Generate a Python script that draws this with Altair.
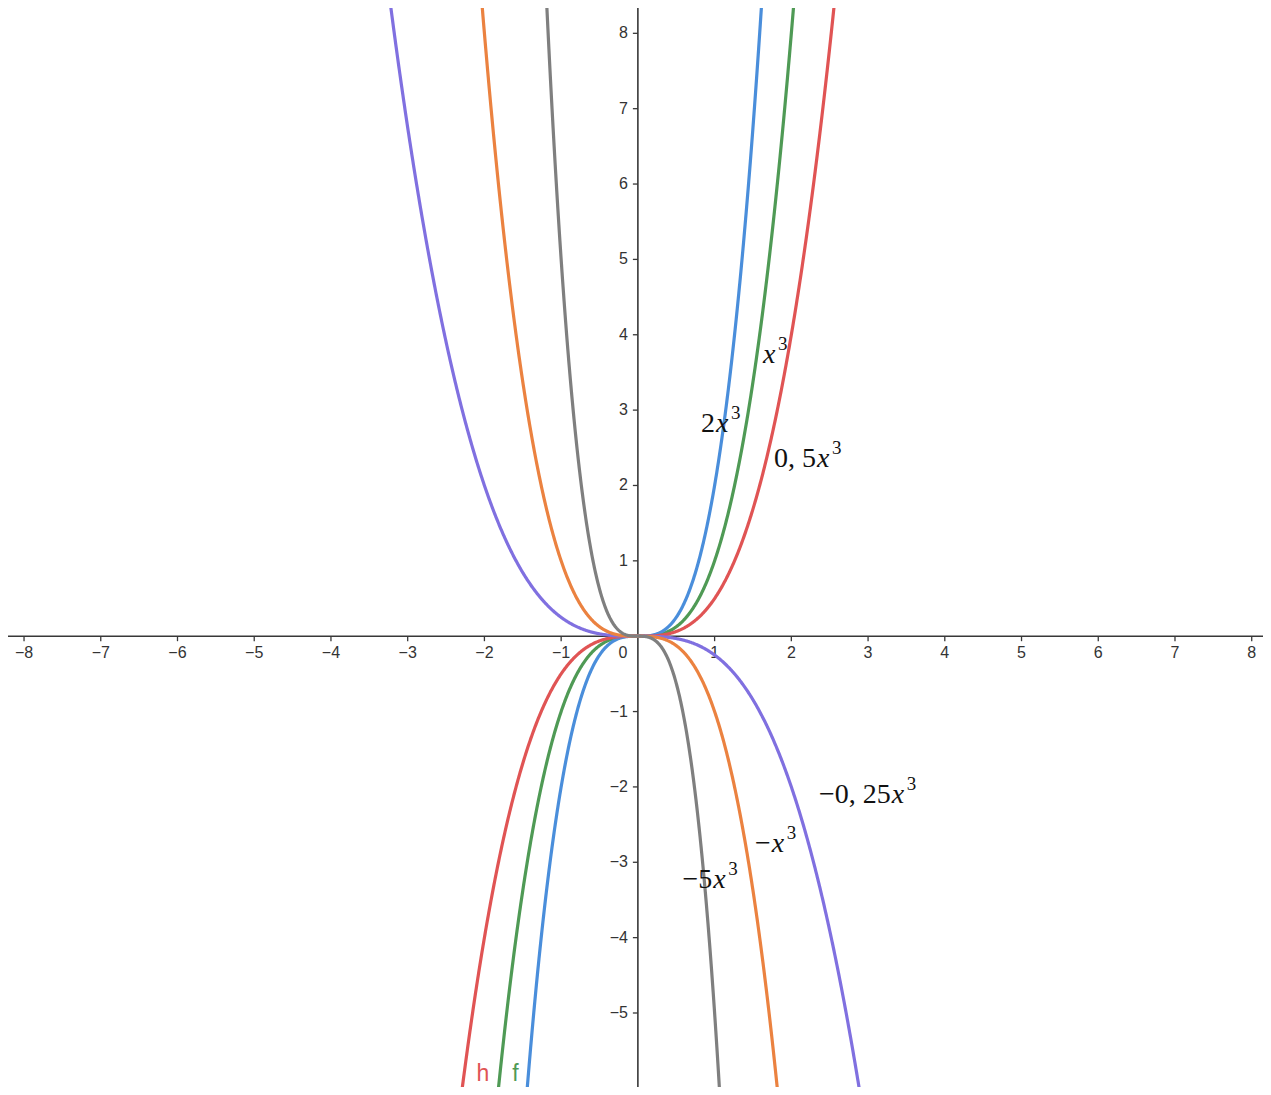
import numpy as np
import pandas as pd
import altair as alt

# ---- view (data coordinates) ----
XMIN, XMAX = -8.209, 8.147
YMIN, YMAX = -5.982, 8.336

# ---- functions ----
names = ["x³", "2x³", "0,5x³", "-0,25x³", "-x³", "-5x³"]
coefs = [1, 2, 0.5, -0.25, -1, -5]
colors = ["#4F9A55", "#4A8EDB", "#E05454", "#8070E0", "#EB8240", "#7F7F7F"]

# ---- curve labels (LaTeX-like) ----
lab_prefix = ["", "2", "0, 5", "−0, 25", "−", "−5"]
lab_x = [1.630, 1.018, 2.334, 3.308, 1.744, 0.983]
lab_y = [3.621, 2.714, 2.249, -2.217, -2.860, -3.337]

# ---- object names ----
obj_names = ["h", "f"]
obj_x = [-2.019, -1.595]
obj_y = [-5.905, -5.905]
obj_colors = ["#E05454", "#4F9A55"]

# ---- ticks ----
x_ticks = [-8, -7, -6, -5, -4, -3, -2, -1, 1, 2, 3, 4, 5, 6, 7, 8]
y_ticks = [-5, -4, -3, -2, -1, 1, 2, 3, 4, 5, 6, 7, 8]
y_labels = [-5, -4, -3, -2, -1, 1, 2, 3, 4, 5, 6, 7, 8]


def fmt(v):
    return ("−" + str(-v)) if v < 0 else str(v)


xsamp = np.linspace(XMIN, XMAX, 2400)
rows = []
for n, a in zip(names, coefs):
    for i, x in enumerate(xsamp):
        y = a * x ** 3
        if YMIN - 1.5 <= y <= YMAX + 1.5:
            rows.append({"name": n, "x": float(x), "y": float(y), "i": i})
curves = pd.DataFrame(rows)

xs = alt.Scale(domain=[XMIN, XMAX], nice=False, zero=False)
ys = alt.Scale(domain=[YMIN, YMAX], nice=False, zero=False)

AX = "#383838"

axis_x = alt.Chart(pd.DataFrame({"x": [XMIN], "x2": [XMAX], "y": [0]})).mark_rule(
    color=AX, strokeWidth=1.6
).encode(
    x=alt.X("x:Q", scale=xs, axis=None), x2="x2:Q", y=alt.Y("y:Q", scale=ys, axis=None)
)
axis_y = alt.Chart(pd.DataFrame({"x": [0], "y": [YMIN], "y2": [YMAX]})).mark_rule(
    color=AX, strokeWidth=1.6
).encode(
    x=alt.X("x:Q", scale=xs, axis=None), y=alt.Y("y:Q", scale=ys, axis=None), y2="y2:Q"
)

xt = pd.DataFrame({"x": x_ticks, "y": [0] * len(x_ticks), "t": [fmt(v) for v in x_ticks]})
yt = pd.DataFrame({"x": [0] * len(y_ticks), "y": y_ticks})
yl = pd.DataFrame({"x": [0] * len(y_labels), "y": y_labels, "t": [fmt(v) for v in y_labels]})

xtick_marks = alt.Chart(xt).mark_rule(color=AX, strokeWidth=1.3, y2Offset=5).encode(
    x=alt.X("x:Q", scale=xs, axis=None), y=alt.Y("y:Q", scale=ys, axis=None), y2="y:Q"
)
ytick_marks = alt.Chart(yt).mark_rule(color=AX, strokeWidth=1.3, x2Offset=-5).encode(
    x=alt.X("x:Q", scale=xs, axis=None), x2="x:Q", y=alt.Y("y:Q", scale=ys, axis=None)
)

TICKFONT = "Liberation Sans"
xtick_text = alt.Chart(xt).mark_text(
    font=TICKFONT, fontSize=16, color="#333333", align="center", baseline="middle", dy=17
).encode(x=alt.X("x:Q", scale=xs, axis=None), y=alt.Y("y:Q", scale=ys, axis=None), text="t:N")
ytick_text = alt.Chart(yl).mark_text(
    font=TICKFONT, fontSize=16, color="#333333", align="right", baseline="middle", dx=-10
).encode(x=alt.X("x:Q", scale=xs, axis=None), y=alt.Y("y:Q", scale=ys, axis=None), text="t:N")
zero_text = alt.Chart(pd.DataFrame({"x": [0], "y": [0], "t": ["0"]})).mark_text(
    font=TICKFONT, fontSize=16, color="#333333", align="center", baseline="middle", dx=-15, dy=17
).encode(x=alt.X("x:Q", scale=xs, axis=None), y=alt.Y("y:Q", scale=ys, axis=None), text="t:N")

lines = alt.Chart(curves).mark_line(strokeWidth=3.2, clip=True).encode(
    x=alt.X("x:Q", scale=xs, axis=None),
    y=alt.Y("y:Q", scale=ys, axis=None),
    color=alt.Color("name:N", scale=alt.Scale(domain=names, range=colors), legend=None),
    detail="name:N",
    order="i:Q",
)

labs = pd.DataFrame({"x": lab_x, "y": lab_y, "p": lab_prefix,
                     "v": ["x"] * len(lab_x), "s": ["3"] * len(lab_x)})
MATHFONT = "Liberation Serif"
lab_pre = alt.Chart(labs).mark_text(
    font=MATHFONT, fontSize=28, color="#111111", align="right", baseline="alphabetic", dx=-1
).encode(x=alt.X("x:Q", scale=xs, axis=None), y=alt.Y("y:Q", scale=ys, axis=None), text="p:N")
lab_var = alt.Chart(labs).mark_text(
    font=MATHFONT, fontSize=28, fontStyle="italic", color="#111111", align="left", baseline="alphabetic"
).encode(x=alt.X("x:Q", scale=xs, axis=None), y=alt.Y("y:Q", scale=ys, axis=None), text="v:N")
lab_sup = alt.Chart(labs).mark_text(
    font=MATHFONT, fontSize=19, color="#111111", align="left", baseline="alphabetic", dx=15, dy=-13
).encode(x=alt.X("x:Q", scale=xs, axis=None), y=alt.Y("y:Q", scale=ys, axis=None), text="s:N")

objs = pd.DataFrame({"x": obj_x, "y": obj_y, "t": obj_names, "c": obj_colors})
obj_text = alt.Chart(objs).mark_text(
    font=TICKFONT, fontSize=23, align="center", baseline="alphabetic"
).encode(
    x=alt.X("x:Q", scale=xs, axis=None),
    y=alt.Y("y:Q", scale=ys, axis=None),
    text="t:N",
    color=alt.Color("c:N", scale=None),
)

chart = alt.layer(
    axis_x, axis_y, xtick_marks, ytick_marks, xtick_text, ytick_text, zero_text,
    lines, lab_pre, lab_var, lab_sup, obj_text,
).properties(
    width=1255, height=1079, padding=0, autosize=alt.AutoSizeParams(type="none"),
    background="white",
).configure_view(stroke=None)

chart.save("out.html", embed_options={"renderer": "svg", "actions": False})
